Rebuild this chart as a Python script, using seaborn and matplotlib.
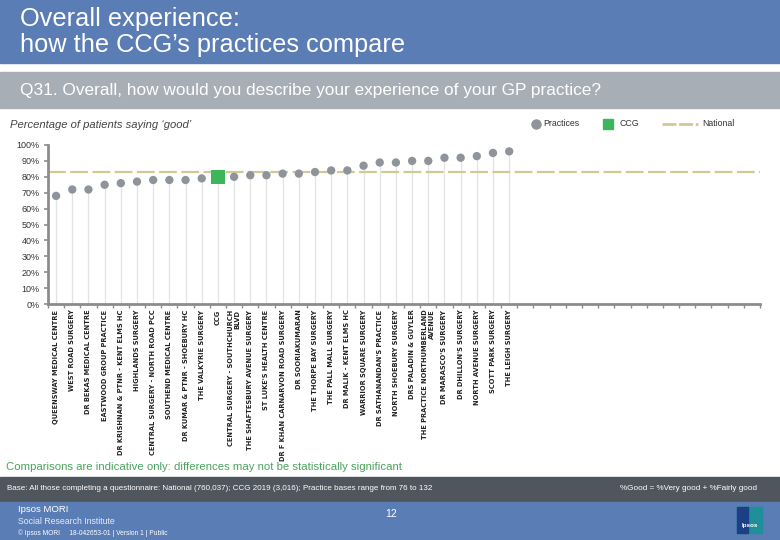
import numpy as np
import pandas as pd
import matplotlib
matplotlib.use("Agg")
import matplotlib.pyplot as plt
from matplotlib.patches import Rectangle
from matplotlib.lines import Line2D
import seaborn as sns

# ---------------- data ----------------
names = [
    "QUEENSWAY MEDICAL CENTRE",
    "WEST ROAD SURGERY",
    "DR BEKAS MEDICAL CENTRE",
    "EASTWOOD GROUP PRACTICE",
    "DR KRISHNAN & PTNR - KENT ELMS HC",
    "HIGHLANDS SURGERY",
    "CENTRAL SURGERY - NORTH ROAD PCC",
    "SOUTHEND MEDICAL CENTRE",
    "DR KUMAR & PTNR - SHOEBURY HC",
    "THE VALKYRIE SURGERY",
    "CCG",
    "CENTRAL SURGERY - SOUTHCHURCH\nBLVD",
    "THE SHAFTESBURY AVENUE SURGERY",
    "ST LUKE'S HEALTH CENTRE",
    "DR F KHAN CARNARVON ROAD SURGERY",
    "DR SOORIAKUMARAN",
    "THE THORPE BAY SURGERY",
    "THE PALL MALL SURGERY",
    "DR MALIK - KENT ELMS HC",
    "WARRIOR SQUARE SURGERY",
    "DR SATHANANDAN'S PRACTICE",
    "NORTH SHOEBURY SURGERY",
    "DRS PALADIN & GUYLER",
    "THE PRACTICE NORTHUMBERLAND\nAVENUE",
    "DR MARASCO'S SURGERY",
    "DR DHILLON'S SURGERY",
    "NORTH AVENUE SURGERY",
    "SCOTT PARK SURGERY",
    "THE LEIGH SURGERY",
]
values = [68, 72, 72, 75, 76, 77, 78, 78, 78, 79, 80, 80, 81, 81, 82, 82, 83,
          84, 84, 87, 89, 89, 90, 90, 92, 92, 93, 95, 96]
kinds = ["CCG" if n == "CCG" else "Practice" for n in names]
national = 83
n_slots = 44
yticks = [0, 10, 20, 30, 40, 50, 60, 70, 80, 90, 100]
ytick_labels = [f"{v}%" for v in yticks]

df = pd.DataFrame({"name": names, "value": values, "kind": kinds})

# ---------------- colours ----------------
BLUE = "#5a7db5"
QGREY = "#a8aeb6"
DARK = "#4f565e"
PT = "#8f949b"
CCG_GREEN = "#3db55b"
NAT = "#cfca94"
STEM = "#e3e3e3"
SPINE = "#8c8c8c"
TXT_GREEN = "#4aa35c"

W, H = 780, 540
fig = plt.figure(figsize=(W / 100, H / 100), dpi=100)
plt.rcParams['font.family'] = ['Liberation Sans', 'DejaVu Sans']


def fx(px):
    return px / W


def fy(py):
    return 1 - py / H


def band(y0, y1, color):
    fig.add_artist(Rectangle((0, fy(y1)), 1, (y1 - y0) / H,
                             transform=fig.transFigure, color=color, zorder=0))


# header / footer bands
band(0, 63, BLUE)
band(72, 108, QGREY)
band(477, 502, DARK)
band(502, 540, BLUE)

fig.text(fx(20), fy(19), "Overall experience:", color="white", fontsize=18.3,
         va="center", ha="left")
fig.text(fx(20), fy(45), "how the CCG\u2019s practices compare", color="white",
         fontsize=18.3, va="center", ha="left")
fig.text(fx(20), fy(91), "Q31. Overall, how would you describe your experience of your GP practice?",
         color="white", fontsize=12.4, va="center", ha="left")
fig.text(fx(10), fy(125), "Percentage of patients saying \u2018good\u2019", color="#444444",
         fontsize=8.1, style="italic", va="center", ha="left")

# legend (manual)
fig.add_artist(Line2D([fx(536)], [fy(124)], marker="o", markersize=6.5, color=PT,
                      linestyle="none", transform=fig.transFigure))
fig.text(fx(543), fy(124), "Practices", fontsize=6.3, color="#333333", va="center")
fig.add_artist(Line2D([fx(608)], [fy(124)], marker="s", markersize=7, color=CCG_GREEN,
                      linestyle="none", transform=fig.transFigure))
fig.text(fx(620), fy(124), "CCG", fontsize=6.3, color="#333333", va="center")
fig.add_artist(Line2D([fx(662), fx(698)], [fy(124), fy(124)], color=NAT, lw=2,
                      dashes=(5, 1), transform=fig.transFigure))
fig.text(fx(702), fy(124), "National", fontsize=6.3, color="#333333", va="center")

# footer texts
fig.text(fx(6), fy(467), "Comparisons are indicative only: differences may not be statistically significant",
         color=TXT_GREEN, fontsize=8.2, va="center")
fig.text(fx(7), fy(488), "Base: All those completing a questionnaire: National (760,037); CCG 2019 (3,016); Practice bases range from 76 to 132",
         color="white", fontsize=5.8, va="center")
fig.text(fx(620), fy(488), "%Good = %Very good + %Fairly good", color="white",
         fontsize=5.9, va="center")
fig.text(fx(18), fy(510), "Ipsos MORI", color="white", fontsize=6.8, va="center")
fig.text(fx(18), fy(521), "Social Research Institute", color="#e6ebf5", fontsize=6.3, va="center")
fig.text(fx(18), fy(533), "\u00a9 Ipsos MORI     18-042653-01 | Version 1 | Public", color="white",
         fontsize=4.8, va="center")
fig.text(fx(391), fy(514), "12", color="white", fontsize=7.5, va="center", ha="center")
fig.add_artist(Rectangle((fx(737), fy(533)), 25 / W, 26 / H, transform=fig.transFigure,
                         color="#1f8f9a", zorder=1))
fig.add_artist(Rectangle((fx(737), fy(533)), 11 / W, 26 / H, transform=fig.transFigure,
                         color="#1d3f86", zorder=1))
fig.text(fx(749.5), fy(526), "Ipsos", color="white", fontsize=4.5, ha="center", va="center",
         weight="bold", zorder=2)

# ---------------- chart ----------------
ax = fig.add_axes([fx(48), fy(304), (760 - 48) / W, (304 - 145) / H])
ax.set_facecolor("white")

pos = np.arange(len(names))
ax.vlines(pos, 0, df["value"], color=STEM, lw=0.9, zorder=1)
ax.axhline(national, color=NAT, lw=1.6, dashes=(8, 2), zorder=2)

sns.scatterplot(data=df, x="name", y="value", hue="kind", style="kind",
                size="kind", palette={"Practice": PT, "CCG": CCG_GREEN},
                markers={"Practice": "o", "CCG": "s"},
                sizes={"Practice": 36, "CCG": 100},
                linewidth=0, legend=False, ax=ax, zorder=3)

ax.set_xlim(-0.5, n_slots - 0.5)
ax.set_ylim(0, 100)
ax.set_xlabel("")
ax.set_ylabel("")
ax.set_yticks(yticks)
ax.set_yticklabels(ytick_labels, fontsize=6.5, color="#333333")
ax.set_xticks(pos)
ax.set_xticklabels(names, rotation=90, fontsize=4.75, color="#222222", weight="bold",
                   va="top", ha="center", multialignment="right", family="DejaVu Sans")
ax.set_xticks(np.arange(-0.5, n_slots, 1), minor=True)
ax.tick_params(axis="x", which="major", length=0, pad=4)
ax.tick_params(axis="x", which="minor", length=3, width=1, color=SPINE, direction="out")
ax.tick_params(axis="y", length=3, width=1.2, color=SPINE, pad=3)
for s in ["top", "right"]:
    ax.spines[s].set_visible(False)
for s in ["left", "bottom"]:
    ax.spines[s].set_color(SPINE)
    ax.spines[s].set_linewidth(2)
ax.grid(False)

fig.savefig("out.png", dpi=100)
